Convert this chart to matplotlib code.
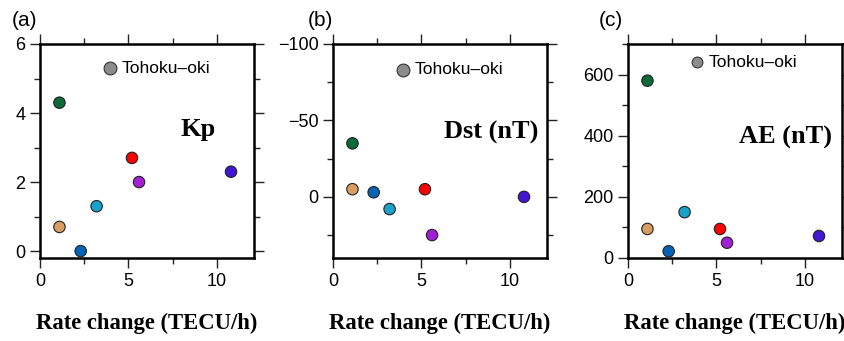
import matplotlib
matplotlib.use("Agg")
import matplotlib.pyplot as plt
from matplotlib.ticker import MultipleLocator

# rate change of each event (TECU/h), same for all three panels
rate = [1.1, 1.1, 2.3, 3.2, 5.2, 5.6, 10.8]
colors = ["#0b6a38", "#d99c62", "#0563b5", "#18a2c9", "#ff0000", "#a21fd6", "#4216d3"]

kp = [4.3, 0.7, 0.0, 1.3, 2.7, 2.0, 2.3]
dst = [-35, -5, -3, 8, -5, 25, 0]
ae = [580, 95, 22, 150, 95, 50, 72]

# Tohoku-oki reference marker (legend-like)
tohoku_x = [3.95, 3.95, 3.9]
tohoku_y = [5.3, -83, 640]

panel_labels = ["(a)", "(b)", "(c)"]
index_names = ["Kp", "Dst (nT)", "AE (nT)"]
ylims = [(-0.2, 6), (40, -100), (0, 700)]
ymajor = [2, 50, 200]
yminor = [1, 25, 100]

plt.rcParams["font.family"] = ["Liberation Sans", "DejaVu Sans"]

fig = plt.figure(figsize=(8.45, 3.41), dpi=100)
lefts = [40 / 845, 333 / 845, 628 / 845]
label_x = [25, 320, 611]
text_pos = [(0.74, 0.60), (0.74, 0.585), (0.737, 0.565)]
gray_size = [85, 85, 60]

for i, yvals in enumerate([kp, dst, ae]):
    ax = fig.add_axes([lefts[i], 83 / 341, 214 / 845, 214 / 341])
    ax.scatter(rate, yvals, s=68, c=colors, edgecolors="#222222",
               linewidths=0.8, zorder=3, clip_on=False)
    ax.scatter([tohoku_x[i]], [tohoku_y[i]], s=gray_size[i], c="#8c8c8c",
               edgecolors="#333333", linewidths=0.8, zorder=3)
    ax.annotate("Tohoku\u2013oki", (tohoku_x[i], tohoku_y[i]),
                xytext=(8.5, 0), textcoords="offset points",
                va="center", ha="left", fontsize=12.5)
    ax.text(text_pos[i][0], text_pos[i][1], index_names[i],
            transform=ax.transAxes, ha="center", va="center",
            fontsize=19, fontweight="bold", family="Liberation Serif")

    ax.set_xlim(0, 12.1)
    ax.set_ylim(*ylims[i])
    ax.xaxis.set_major_locator(MultipleLocator(5))
    ax.xaxis.set_minor_locator(MultipleLocator(2.5))
    ax.yaxis.set_major_locator(MultipleLocator(ymajor[i]))
    ax.yaxis.set_minor_locator(MultipleLocator(yminor[i]))
    ax.tick_params(which="both", direction="out", top=True, right=True,
                   labelsize=13, width=1, color="#222222")
    ax.tick_params(which="major", length=7.5, pad=3)
    ax.tick_params(which="minor", length=4)
    for sp in ax.spines.values():
        sp.set_linewidth(1.8)
    if i == 1:
        ax.set_yticks([-100, -50, 0])
        ax.set_yticklabels(["\u2212100", "\u221250", "0"])

    cx = lefts[i] + 107 / 845
    fig.text(cx, 1 - 323 / 341, "Rate change (TECU/h)", ha="center",
             va="center", fontsize=16.3, fontweight="bold",
             family="Liberation Serif")
    fig.text(label_x[i] / 845, 1 - 20 / 341, panel_labels[i], ha="center",
             va="center", fontsize=15)

fig.savefig("out.png", dpi=100)
